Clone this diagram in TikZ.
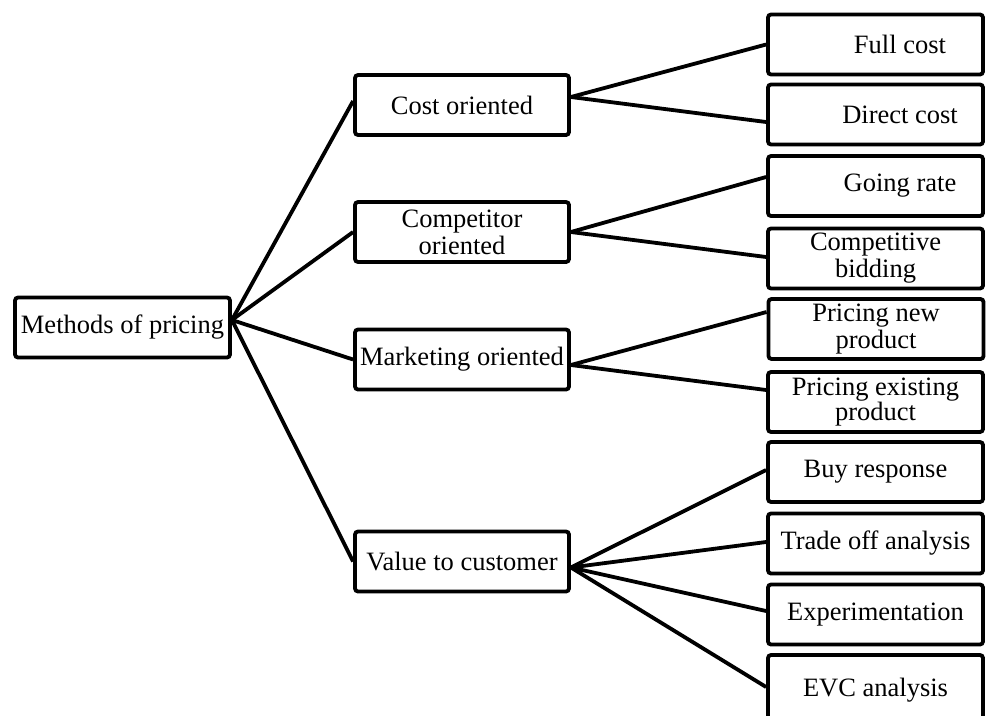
\documentclass[tikz,border=0pt]{standalone}
\usepackage{fontspec}
\setmainfont{Liberation Serif}
\begin{document}
\begin{tikzpicture}[x=1pt,y=-1pt,
  box/.style={draw, line width=3.8pt, rounded corners=3pt, fill=white,
    minimum height=60pt, inner sep=0pt, align=center,
    font=\fontsize{26.5}{27}\selectfont},
  rootbox/.style={box, minimum width=215pt},
  midbox/.style={box, minimum width=214pt},
  leafbox/.style={box, minimum width=215pt},
  link/.style={line width=3.8pt}]
\useasboundingbox (0,0) rectangle (987,715);
\clip (0,0) rectangle (987,715);

% root
\node[rootbox] (root) at (122.5,327.5) {Methods of pricing};

% second level
\node[midbox] (cost) at (462,105)   {Cost oriented};
\node[midbox] (comp) at (462,232)   {Competitor\\oriented};
\node[midbox] (mark) at (462,359.5) {\raisebox{-2pt}{Marketing oriented}};
\node[midbox] (val)  at (462,561.5) {Value to customer};

% third level
\node[leafbox] (full)  at (875.5,44.5)  {\hspace*{49pt}Full cost};
\node[leafbox] (dir)   at (875.5,114.5) {\hspace*{49pt}Direct cost};
\node[leafbox] (going) at (875.5,186)   {\hspace*{49pt}Going rate};
\node[leafbox] (bid)   at (875.5,258.5) {Competitive\\bidding};
\node[leafbox] (pnew)  at (876,329)     {Pricing new\\product};
\node[leafbox, font=\fontsize{26.5}{23}\selectfont] (pex) at (875.5,402) {Pricing existing\\product};
\node[leafbox] (buy)   at (875.5,472)   {Buy response};
\node[leafbox] (trade) at (875.5,543.5) {Trade off analysis};
\node[leafbox] (exper) at (875.5,614.5) {Experimentation};
\node[leafbox, minimum height=70pt] (evc) at (875.5,690) {\raisebox{3pt}{EVC analysis}};

% root to second level
\draw[link] ([yshift=7.5pt]root.east) -- ([yshift=4pt]cost.west);
\draw[link] ([yshift=7.5pt]root.east) -- (comp.west);
\draw[link] ([yshift=7.5pt]root.east) -- (mark.west);
\draw[link] ([yshift=7.5pt]root.east) -- (val.west);

% cost oriented
\draw[link] ([yshift=8pt]cost.east) -- (full.west);
\draw[link] ([yshift=8pt]cost.east) -- ([yshift=-7.5pt]dir.west);

% competitor oriented
\draw[link] (comp.east) -- ([yshift=9pt]going.west);
\draw[link] (comp.east) -- ([yshift=1.5pt]bid.west);

% marketing oriented
\draw[link] ([yshift=-5.5pt]mark.east) -- ([yshift=17pt]pnew.west);
\draw[link] ([yshift=-5.5pt]mark.east) -- ([yshift=12pt]pex.west);

% value to customer
\draw[link] ([yshift=-6pt]val.east) -- ([yshift=2pt]buy.west);
\draw[link] ([yshift=-6pt]val.east) -- ([yshift=1.5pt]trade.west);
\draw[link] ([yshift=-6pt]val.east) -- ([yshift=3.5pt]exper.west);
\draw[link] ([yshift=-6pt]val.east) -- ([yshift=3pt]evc.west);
\end{tikzpicture}
\end{document}
